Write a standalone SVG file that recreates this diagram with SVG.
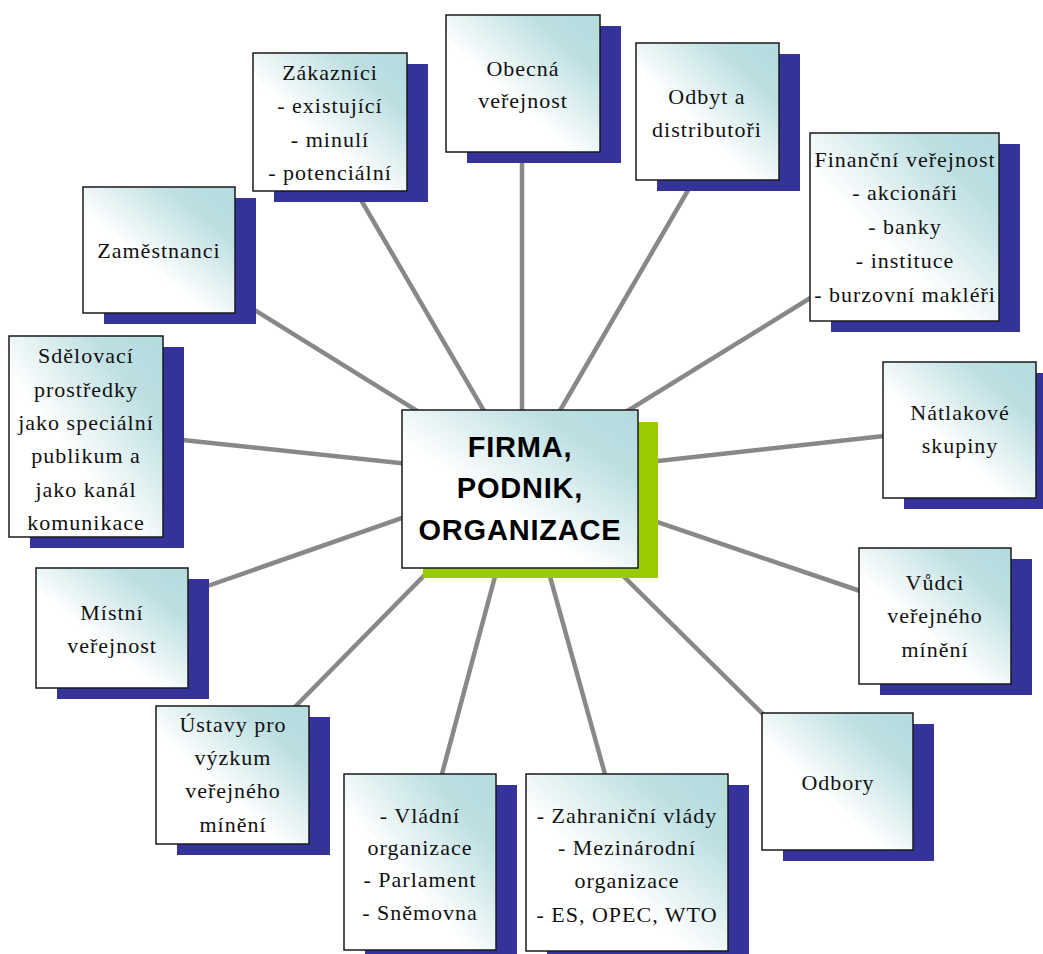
<svg xmlns="http://www.w3.org/2000/svg" width="1043" height="954" viewBox="0 0 1043 954">
<style>
.shadow{fill:#333399}
.box{fill:url(#boxg);stroke:#1a1a1a;stroke-width:1.5}
.lbl{font-family:"Liberation Serif","Times New Roman",serif;font-size:22px;letter-spacing:1px;fill:#111;text-anchor:middle}
.main{font-family:"Liberation Sans",Arial,sans-serif;font-size:29px;font-weight:bold;letter-spacing:0.8px;fill:#000;text-anchor:middle}
.conn line{stroke:#888888;stroke-width:4.5;stroke-linecap:butt}
</style>
<defs>
<linearGradient id="boxg" x1="1" y1="0" x2="0" y2="1">
<stop offset="0" stop-color="#b3dbde"/>
<stop offset="0.22" stop-color="#bddfe2"/>
<stop offset="0.6" stop-color="#ffffff"/>
<stop offset="1" stop-color="#ffffff"/>
</linearGradient>
</defs>
<rect width="1043" height="954" fill="#ffffff"/>
<g id="connectors" class="conn">
<line x1="522" y1="476" x2="354" y2="188"/>
<line x1="522" y1="476" x2="248" y2="306"/>
<line x1="522" y1="476" x2="522" y2="150"/>
<line x1="522" y1="476" x2="694" y2="180"/>
<line x1="522" y1="476" x2="820" y2="292"/>
<line x1="522" y1="476" x2="893" y2="435"/>
<line x1="522" y1="476" x2="869" y2="594"/>
<line x1="522" y1="476" x2="770" y2="721"/>
<line x1="522" y1="476" x2="608" y2="785"/>
<line x1="522" y1="476" x2="439" y2="785"/>
<line x1="522" y1="476" x2="288" y2="714"/>
<line x1="522" y1="476" x2="199" y2="589"/>
<line x1="522" y1="476" x2="173" y2="439"/>
</g>
<g id="center">
<rect x="423" y="422" width="235" height="156" fill="#99cc00"/>
<rect class="box" x="402" y="410" width="236" height="158"/>
<text class="main" x="520" y="457">FIRMA,</text>
<text class="main" x="520" y="498">PODNIK,</text>
<text class="main" x="520" y="540">ORGANIZACE</text>
</g>
<g id="obecna">
<rect class="shadow" x="467" y="26" width="154" height="137"/>
<rect class="box" x="446" y="15" width="154" height="137"/>
<text class="lbl" x="523" y="76">Obecná</text>
<text class="lbl" x="523" y="108">veřejnost</text>
</g>
<g id="odbyt">
<rect class="shadow" x="657" y="54" width="143" height="137"/>
<rect class="box" x="636" y="43" width="143" height="137"/>
<text class="lbl" x="707" y="104">Odbyt a</text>
<text class="lbl" x="707" y="137">distributoři</text>
</g>
<g id="financni">
<rect class="shadow" x="831" y="144" width="189" height="188"/>
<rect class="box" x="810" y="133" width="189" height="188"/>
<text class="lbl" x="905" y="167">Finanční veřejnost</text>
<text class="lbl" x="905" y="200">- akcionáři</text>
<text class="lbl" x="905" y="234">- banky</text>
<text class="lbl" x="905" y="268">- instituce</text>
<text class="lbl" x="905" y="302">- burzovní makléři</text>
</g>
<g id="natlakove">
<rect class="shadow" x="904" y="373" width="153" height="136"/>
<rect class="box" x="883" y="362" width="153" height="136"/>
<text class="lbl" x="960" y="420">Nátlakové</text>
<text class="lbl" x="960" y="453">skupiny</text>
</g>
<g id="vudci">
<rect class="shadow" x="880" y="559" width="152" height="136"/>
<rect class="box" x="859" y="548" width="152" height="136"/>
<text class="lbl" x="935" y="590">Vůdci</text>
<text class="lbl" x="935" y="623">veřejného</text>
<text class="lbl" x="935" y="657">mínění</text>
</g>
<g id="odbory">
<rect class="shadow" x="783" y="724" width="151" height="137"/>
<rect class="box" x="762" y="713" width="151" height="137"/>
<text class="lbl" x="838" y="790">Odbory</text>
</g>
<g id="zahranicni">
<rect class="shadow" x="547" y="785" width="202" height="177"/>
<rect class="box" x="526" y="774" width="202" height="177"/>
<text class="lbl" x="627" y="823">- Zahraniční vlády</text>
<text class="lbl" x="627" y="855">- Mezinárodní</text>
<text class="lbl" x="627" y="888">organizace</text>
<text class="lbl" x="627" y="922">- ES, OPEC, WTO</text>
</g>
<g id="vladni">
<rect class="shadow" x="365" y="785" width="152" height="176"/>
<rect class="box" x="344" y="774" width="152" height="176"/>
<text class="lbl" x="420" y="823">- Vládní</text>
<text class="lbl" x="420" y="855">organizace</text>
<text class="lbl" x="420" y="887">- Parlament</text>
<text class="lbl" x="420" y="920">- Sněmovna</text>
</g>
<g id="ustavy">
<rect class="shadow" x="177" y="717" width="153" height="138"/>
<rect class="box" x="156" y="706" width="153" height="138"/>
<text class="lbl" x="233" y="732">Ústavy pro</text>
<text class="lbl" x="233" y="765">výzkum</text>
<text class="lbl" x="233" y="798">veřejného</text>
<text class="lbl" x="233" y="832">mínění</text>
</g>
<g id="mistni">
<rect class="shadow" x="57" y="579" width="152" height="120"/>
<rect class="box" x="36" y="568" width="152" height="120"/>
<text class="lbl" x="112" y="620">Místní</text>
<text class="lbl" x="112" y="653">veřejnost</text>
</g>
<g id="sdelovaci">
<rect class="shadow" x="30" y="347" width="154" height="201"/>
<rect class="box" x="9" y="336" width="154" height="201"/>
<text class="lbl" x="86" y="363">Sdělovací</text>
<text class="lbl" x="86" y="397">prostředky</text>
<text class="lbl" x="86" y="430">jako speciální</text>
<text class="lbl" x="86" y="463">publikum a</text>
<text class="lbl" x="86" y="497">jako kanál</text>
<text class="lbl" x="86" y="530">komunikace</text>
</g>
<g id="zamestnanci">
<rect class="shadow" x="104" y="198" width="152" height="126"/>
<rect class="box" x="83" y="187" width="152" height="126"/>
<text class="lbl" x="159" y="258">Zaměstnanci</text>
</g>
<g id="zakaznici">
<rect class="shadow" x="274" y="64" width="154" height="138"/>
<rect class="box" x="253" y="53" width="154" height="138"/>
<text class="lbl" x="330" y="80">Zákazníci</text>
<text class="lbl" x="330" y="113">- existující</text>
<text class="lbl" x="330" y="147">- minulí</text>
<text class="lbl" x="330" y="180">- potenciální</text>
</g>
</svg>
